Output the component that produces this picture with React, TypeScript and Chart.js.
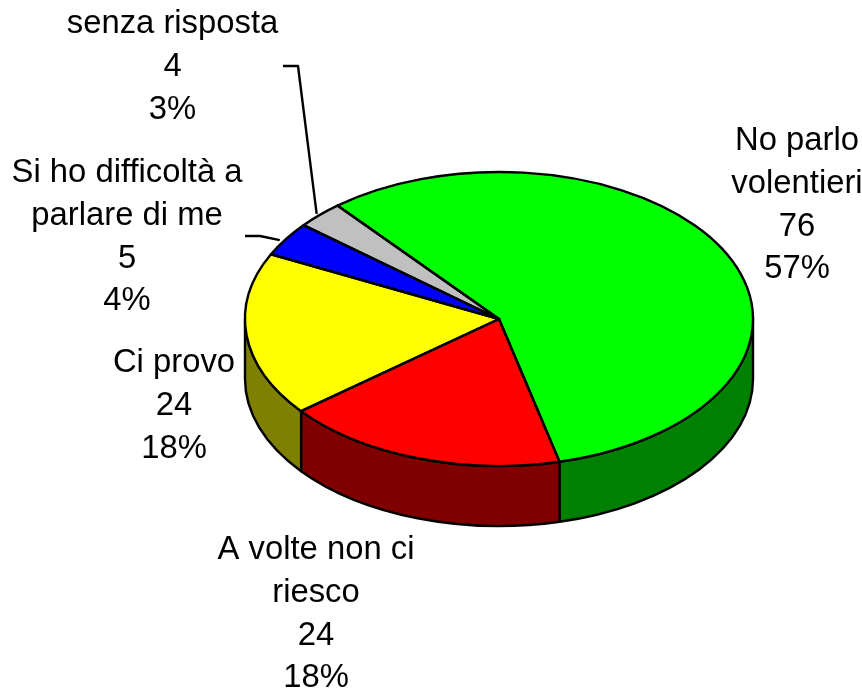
import React, { useEffect, useRef } from "react";
import { Chart, registerables } from "chart.js";

Chart.register(...registerables);

const categories = ["No parlo\nvolentieri", "A volte non ci\nriesco", "Ci provo", "Si ho difficoltà a\nparlare di me", "senza risposta"];
const values = [76, 24, 24, 5, 4];
const topColors = ["#00ff00", "#ff0000", "#ffff00", "#0000ff", "#c0c0c0"];
const wallColors = ["#008000", "#800000", "#808000", "#000080", "#606060"];

// Label layout: centre x and baseline of the first line of each label
const labelCentreX = [797, 316, 174, 127, 172.5];
const labelFirstBaseline = [150, 559, 372, 182, 33];
const LINE_STEP = 42.8;
const FONT = "32.8px 'Liberation Sans', Arial, sans-serif";
const STROKE = 2.4;

// Pie projection
const SQUASH = 147 / 254;
const DEPTH = 60;

// Leader lines: index of slice, elbow start, elbow, offset of the end from the slice's rim midpoint
const leaders = [
  { slice: 4, from: [283, 66], elbow: [298, 66], nudge: [-3, -1] },
  { slice: 3, from: [245, 236], elbow: [260, 236], nudge: [-6, 1] },
];

const pie3d = {
  id: "pie3d",
  beforeDatasetsDraw(chart: any) {
    const { ctx } = chart;
    const arcs = chart.getDatasetMeta(0).data;
    ctx.save();
    ctx.lineWidth = STROKE;
    ctx.strokeStyle = "#000";
    ctx.lineJoin = "round";
    arcs.forEach((arc: any, i: number) => {
      const { x, y, startAngle, endAngle, outerRadius: R } = arc;
      for (let n = -1; n <= 1; n++) {
        const lo = 2 * Math.PI * n;
        const a0 = Math.max(startAngle, lo);
        const a1 = Math.min(endAngle, lo + Math.PI);
        if (a1 <= a0) continue;
        ctx.beginPath();
        ctx.ellipse(x, y, R, R * SQUASH, 0, a0, a1);
        ctx.ellipse(x, y + DEPTH, R, R * SQUASH, 0, a1, a0, true);
        ctx.closePath();
        ctx.fillStyle = wallColors[i];
        ctx.fill();
        ctx.stroke();
      }
    });
    ctx.restore();
    // squash the flat pie the library draws into the top face
    const first = arcs[0];
    ctx.save();
    ctx.translate(first.x, first.y);
    ctx.scale(1, SQUASH);
    ctx.translate(-first.x, -first.y);
  },
  afterDatasetsDraw(chart: any) {
    const { ctx } = chart;
    ctx.restore();
    const arcs = chart.getDatasetMeta(0).data;
    ctx.save();
    ctx.lineWidth = STROKE;
    ctx.strokeStyle = "#000";
    ctx.lineJoin = "round";
    arcs.forEach((arc: any) => {
      const { x, y, startAngle, endAngle, outerRadius: R } = arc;
      ctx.beginPath();
      ctx.moveTo(x, y);
      ctx.ellipse(x, y, R, R * SQUASH, 0, startAngle, endAngle);
      ctx.closePath();
      ctx.stroke();
    });
    leaders.forEach((l) => {
      const arc = arcs[l.slice];
      const mid = (arc.startAngle + arc.endAngle) / 2;
      const ex = arc.x + arc.outerRadius * Math.cos(mid) + l.nudge[0];
      const ey = arc.y + arc.outerRadius * SQUASH * Math.sin(mid) + l.nudge[1];
      ctx.beginPath();
      ctx.moveTo(l.from[0], l.from[1]);
      ctx.lineTo(l.elbow[0], l.elbow[1]);
      ctx.lineTo(ex, ey);
      ctx.stroke();
    });
    const total = values.reduce((a, b) => a + b, 0);
    ctx.fillStyle = "#000";
    ctx.font = FONT;
    ctx.textAlign = "center";
    ctx.textBaseline = "alphabetic";
    categories.forEach((c, i) => {
      const lines = [...c.split("\n"), String(values[i]), `${Math.round((values[i] / total) * 100)}%`];
      lines.forEach((t, j) => ctx.fillText(t, labelCentreX[i], labelFirstBaseline[i] + j * LINE_STEP));
    });
    ctx.restore();
  },
};

export default function App() {
  const ref = useRef<HTMLCanvasElement>(null);
  useEffect(() => {
    const chart = new Chart(ref.current!, {
      type: "pie",
      data: {
        labels: categories,
        datasets: [{ data: values, backgroundColor: topColors, borderWidth: 0 }],
      },
      options: {
        responsive: false,
        animation: false,
        events: [],
        rotation: -39.5,
        layout: { padding: { left: 245, right: 109, top: 65, bottom: 120 } },
        plugins: { legend: { display: false }, tooltip: { enabled: false } },
      },
      plugins: [pie3d],
    } as any);
    return () => chart.destroy();
  }, []);
  return (
    <canvas
      ref={ref}
      width={862}
      height={693}
      style={{ position: "fixed", left: 0, top: 0, display: "block", background: "#fff" }}
    />
  );
}
